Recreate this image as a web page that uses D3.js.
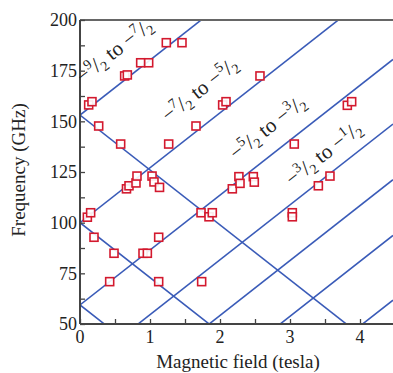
<!DOCTYPE html>
<html lang="en">
<head>
<meta charset="utf-8">
<title>ESR frequency vs field</title>
<script src="https://d3js.org/d3.v7.min.js"></script>
<style>
  body { margin: 0; background: #fff; }
  text { font-family: "Liberation Serif", "DejaVu Serif", serif; fill: #222; }
</style>
</head>
<body>
<div id="chart"></div>
<script>
// measured points (field in tesla, frequency in GHz)
var fieldB = [1.233, 1.457, 0.867, 0.981, 0.638, 0.676, 2.571,
  0.124, 0.171, 2.038, 2.086, 3.819, 3.881,
  0.267, 1.657, 0.581, 1.267, 3.061,
  0.664, 0.70, 0.80, 0.814, 1.029, 1.057, 1.136,
  2.176, 2.27, 2.286, 2.476, 2.49, 3.571, 3.405,
  0.105, 0.152, 1.729, 1.843, 1.89, 3.033, 3.033,
  0.2, 1.124, 0.486, 0.90, 0.962, 0.424, 1.124, 1.738];
var freqGHz = [188.8, 188.8, 178.9, 178.9, 172.4, 172.9, 172.4,
  158.1, 159.7, 158.1, 159.7, 157.9, 159.7,
  147.7, 147.7, 138.8, 138.8, 138.8,
  116.7, 118.2, 119.6, 123.0, 123.0, 120.1, 117.4,
  116.7, 122.7, 119.4, 122.7, 120.0, 123.0, 118.2,
  102.7, 104.9, 104.9, 102.9, 104.9, 104.9, 102.9,
  92.8, 92.8, 84.9, 84.9, 84.9, 70.9, 70.9, 70.9];

// calculated transitions: f = |offset + slope*B|
var zeroFieldOffsets = [-153.1, -100, -59.4, -27.5, 0, 27.5, 59.4, 100, 153.1];
var slopeGHzPerT = 27.1;

var xTicks = [0, 1, 2, 3, 4];
var yTicks = [50, 75, 100, 125, 150, 175, 200];

var labelNames = [["9", "7"], ["7", "5"], ["5", "3"], ["3", "1"]];
var labelB = [0.55, 1.77, 2.74, 3.54];
var labelF = [182.2, 163.0, 144.3, 131.4];

var W = 393, H = 373;
var margin = {top: 20, left: 80, bottom: 49};
var plotH = H - margin.top - margin.bottom;

var svg = d3.select("#chart").append("svg")
  .attr("width", W).attr("height", H);

var x = d3.scaleLinear().domain([0, (W - margin.left) / 70]).range([margin.left, W]);
var y = d3.scaleLinear().domain([50, 200]).range([margin.top + plotH, margin.top]);

svg.append("clipPath").attr("id", "clip")
  .append("rect")
  .attr("x", margin.left).attr("y", margin.top)
  .attr("width", W - margin.left).attr("height", plotH);

// transition lines
var line = d3.line().x(function(d) { return x(d[0]); }).y(function(d) { return y(d[1]); });
var bMax = x.domain()[1];
zeroFieldOffsets.forEach(function(c) {
  var pts = [0, bMax];
  var vertex = -c / slopeGHzPerT;
  if (vertex > 0 && vertex < bMax) pts.splice(1, 0, vertex);
  var data = pts.map(function(b) { return [b, Math.abs(c + slopeGHzPerT * b)]; });
  svg.append("path")
    .attr("clip-path", "url(#clip)")
    .attr("d", line(data))
    .attr("fill", "none")
    .attr("stroke", "#3a5bb8")
    .attr("stroke-width", 1.6);
});

// axes
var axisColor = "#444";
svg.append("line").attr("x1", margin.left).attr("x2", W)
  .attr("y1", margin.top).attr("y2", margin.top)
  .attr("stroke", "#666").attr("stroke-width", 2);

var yAxis = svg.append("g").attr("transform", "translate(" + margin.left + ",0)")
  .call(d3.axisRight(y).tickValues(d3.range(50, 200.1, 12.5)).tickSize(5).tickFormat(""));
var xAxis = svg.append("g").attr("transform", "translate(0," + (margin.top + plotH) + ")")
  .call(d3.axisTop(x).tickValues(d3.range(0, 4.6, 0.5)).tickSize(5).tickFormat(""));
[xAxis, yAxis].forEach(function(a) {
  a.select(".domain").attr("stroke", axisColor).attr("stroke-width", 2);
  a.selectAll(".tick line").attr("stroke", axisColor).attr("stroke-width", 1.3);
});
xAxis.select(".domain").attr("d", "M" + margin.left + ",0H" + W);
yAxis.select(".domain").attr("d", "M0," + y(50) + "V" + y(200));

svg.selectAll(".ylab").data(yTicks).enter().append("text")
  .attr("x", margin.left - 3).attr("y", function(d) { return y(d); })
  .attr("dy", "0.35em").attr("text-anchor", "end")
  .attr("font-size", 18).text(function(d) { return d; });

svg.selectAll(".xlab").data(xTicks).enter().append("text")
  .attr("x", function(d) { return x(d); }).attr("y", y(50) + 19)
  .attr("text-anchor", "middle")
  .attr("font-size", 18).text(function(d) { return d; });

svg.append("text")
  .attr("x", 238).attr("y", 368)
  .attr("text-anchor", "middle").attr("font-size", 19)
  .text("Magnetic field (tesla)");

svg.append("text")
  .attr("transform", "translate(25,170) rotate(-90)")
  .attr("text-anchor", "middle").attr("font-size", 19)
  .text("Frequency (GHz)");

// transition labels
var angle = -Math.atan(slopeGHzPerT * (y(0) - y(1)) / (x(1) - x(0))) * 180 / Math.PI;
labelNames.forEach(function(n, i) {
  var t = svg.append("text")
    .attr("transform", "translate(" + x(labelB[i]) + "," + y(labelF[i]) + ") rotate(" + angle + ")")
    .attr("text-anchor", "middle").style("font-size", "21px");
  t.append("tspan").text("\u2212");
  t.append("tspan").style("font-size", "14px").attr("dy", -8).text(n[0]);
  t.append("tspan").style("font-size", "21px").attr("dy", 8).text("/");
  t.append("tspan").style("font-size", "14px").attr("dy", 4).text("2");
  t.append("tspan").style("font-size", "21px").attr("dy", -4).text(" to \u2212");
  t.append("tspan").style("font-size", "14px").attr("dy", -8).text(n[1]);
  t.append("tspan").style("font-size", "21px").attr("dy", 8).text("/");
  t.append("tspan").style("font-size", "14px").attr("dy", 4).text("2");
});

// measured points
svg.selectAll(".pt").data(fieldB).enter().append("rect")
  .attr("x", function(d) { return x(d) - 4; })
  .attr("y", function(d, i) { return y(freqGHz[i]) - 4; })
  .attr("width", 8).attr("height", 8)
  .attr("fill", "white").attr("fill-opacity", 0.9)
  .attr("stroke", "#d3192e").attr("stroke-width", 1.6);
</script>
</body>
</html>
